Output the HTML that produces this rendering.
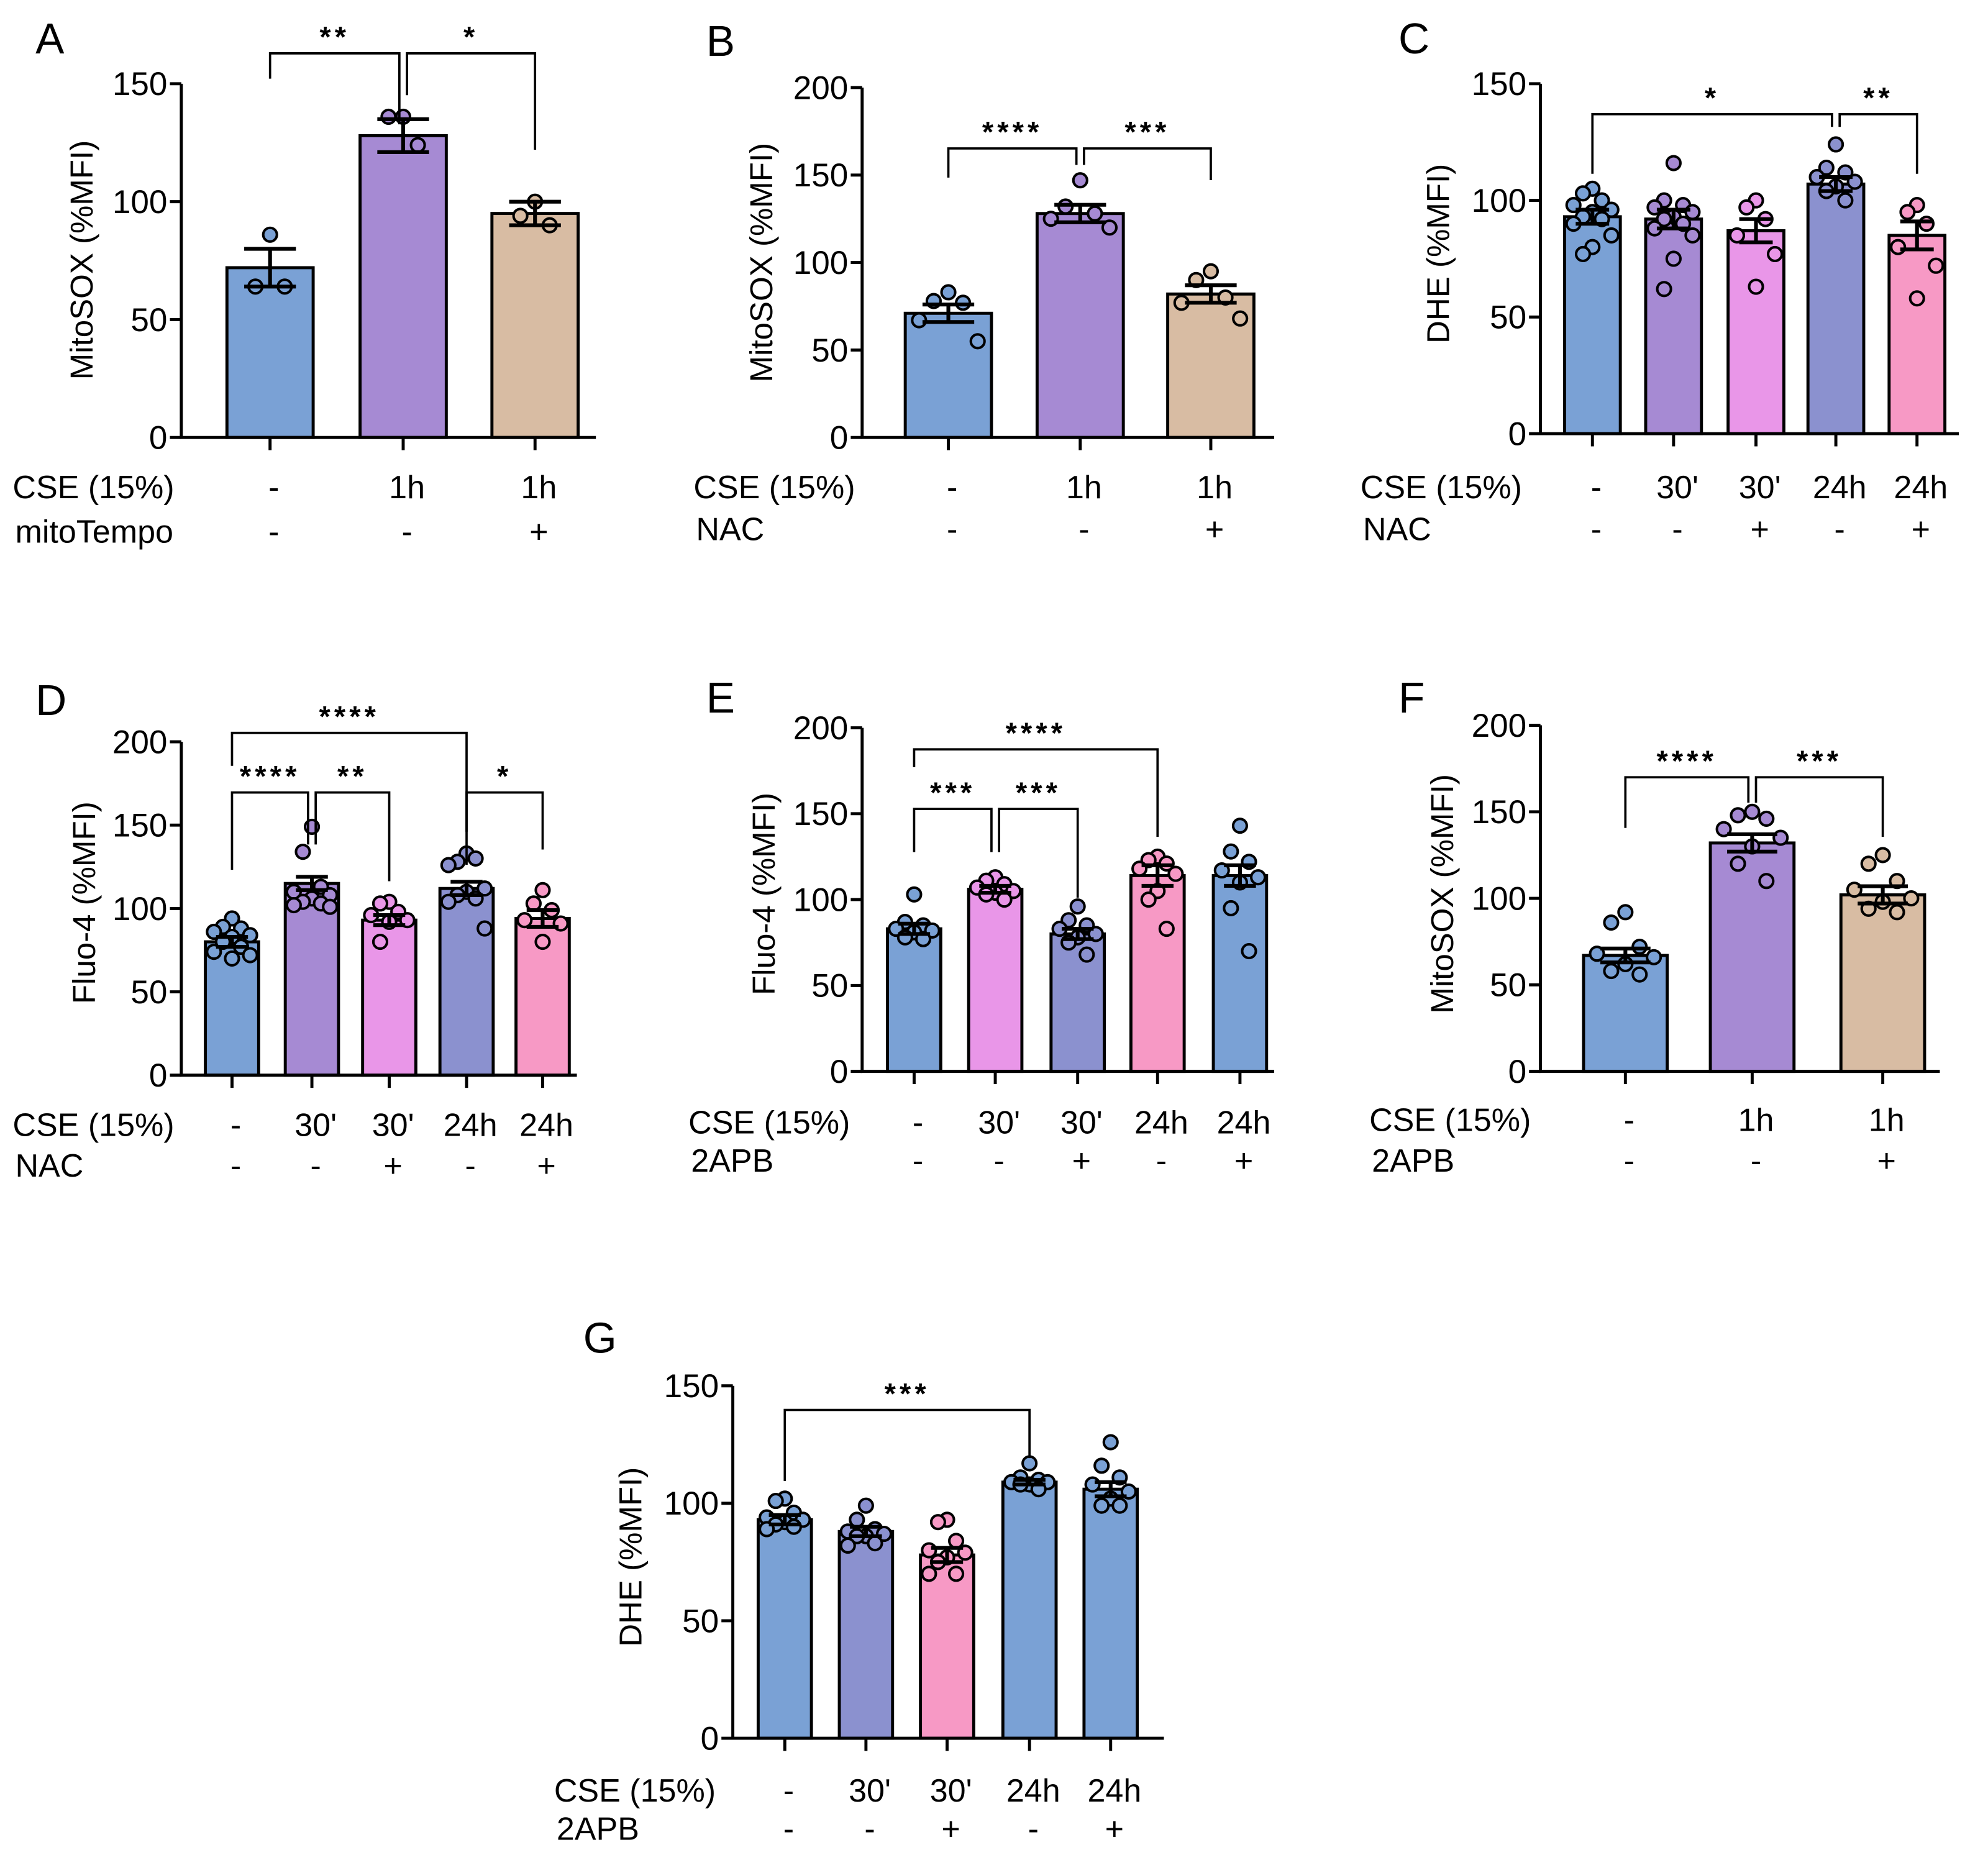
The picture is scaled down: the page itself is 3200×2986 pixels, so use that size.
<!DOCTYPE html>
<html><head><meta charset="utf-8"><style>
html,body{margin:0;padding:0;background:#fff}
svg{display:block}
text{font-family:"Liberation Sans",Arial,sans-serif;fill:#000}
</style></head><body>
<svg id="fig" width="3200" height="2986" viewBox="0 0 1568 1463" xmlns="http://www.w3.org/2000/svg"></svg>
<script>
// ---- data ----
const aMeans=[72,128,95];
const aSem=[8,7,5];
const aPts=[[86,64,64],[136,136,124],[100,94,90]];
const bMeans=[71,128,82];
const bSem=[5,5,5];
const bPts=[[83,78,77,67,55],[147,132,128,125,120],[95,90,80,77,68]];
const cMeans=[93,92,87,107,85];
const cSem=[3,4,5,3,6];
const cPts=[[105,103,100,98,96,95,93,92,90,85,80,77],[116,100,98,97,95,93,92,90,88,85,75,62],[100,97,92,85,77,63],[124,114,112,110,108,106,104,100],[98,95,90,80,72,58]];
const dMeans=[80,115,93,112,94];
const dSem=[3,4,3,4,5];
const dPts=[[94,89,88,86,84,83,80,77,74,72,70],[149,134,113,110,108,106,104,103,102,101],[104,103,98,96,93,92,80],[133,128,130,126,112,110,108,106,104,88],[111,103,99,93,91,80]];
const eMeans=[83,106,80,114,114];
const eSem=[3,2,3,6,6];
const ePts=[[103,87,85,83,82,81,78,77],[113,111,109,107,105,104,103,100],[96,88,85,83,80,78,75,68],[125,123,121,118,115,105,100,83],[143,128,122,117,113,110,95,70]];
const fMeans=[67,132,102];
const fSem=[4,5,5];
const fPts=[[92,86,72,68,66,62,58,56],[150,148,146,140,135,130,120,110],[125,120,110,105,100,98,94,92]];
const gMeans=[93,88,78,109,106];
const gSem=[2,2,3,1,3];
const gPts=[[102,101,96,94,93,92,91,90,89],[99,93,89,88,87,86,86,83,82],[93,92,84,80,79,77,75,70,70],[117,111,110,109,109,108,108,106],[126,116,111,108,105,102,99,99]];
const catsCSE3=["-","1h","1h"];
const catsCSE5=["-","30'","30'","24h","24h"];
const treat3=["-","-","+"];
const treat5=["-","-","+","-","+"];

const BLUE="#7aa1d5",PURP="#a68ad3",BEIGE="#d8bca3",VIOL="#e996e8",PERI="#8b91cf",PINK="#f799c5";

const panels=[
 {id:"a",letter:"A",lx:28,ly:42,ax:143,y0:345,ymax:150,ytop:66,ticks:[0,50,100,150],xend:470,cx:[213,318,422],bw:68,means:aMeans,sem:aSem,pts:aPts,cols:[BLUE,PURP,BEIGE],title:"MitoSOX (%MFI)",tx:73,ty:205,rowx:10,r1y:393,r2y:428,r1:catsCSE3,r2:treat3,r2name:"mitoTempo",
  br:[[0,1,42,"**",62,98],[1,2,42,"*",75,118]]},
 {id:"b",letter:"B",lx:557,ly:44,ax:680,y0:345,ymax:200,ytop:69,ticks:[0,50,100,150,200],xend:1005,cx:[748,852,955],bw:68,means:bMeans,sem:bSem,pts:bPts,cols:[BLUE,PURP,BEIGE],title:"MitoSOX (%MFI)",tx:609,ty:207,rowx:547,r1y:393,r2y:426,r1:catsCSE3,r2:treat3,r2name:"NAC",
  br:[[0,1,117,"****",140,130],[1,2,117,"***",130,142]]},
 {id:"c",letter:"C",lx:1103,ly:42,ax:1215,y0:342,ymax:150,ytop:66,ticks:[0,50,100,150],xend:1545,cx:[1256,1320,1385,1448,1512],bw:44,means:cMeans,sem:cSem,pts:cPts,cols:[BLUE,PURP,VIOL,PERI,PINK],title:"DHE (%MFI)",tx:1143,ty:200,rowx:1073,r1y:393,r2y:426,r1:catsCSE5,r2:treat5,r2name:"NAC",
  br:[[0,3,90,"*",137,100],[3,4,90,"**",100,137]]},
 {id:"d",letter:"D",lx:28,ly:564,ax:143,y0:848,ymax:200,ytop:585,ticks:[0,50,100,150,200],xend:455,cx:[183,246,307,368,428],bw:42,means:dMeans,sem:dSem,pts:dPts,cols:[BLUE,PURP,VIOL,PERI,PINK],title:"Fluo-4 (%MFI)",tx:75,ty:712,rowx:10,r1y:896,r2y:928,r1:catsCSE5,r2:treat5,r2name:"NAC",
  br:[[0,3,578,"****",604,656],[0,1,625,"****",686,666],[1,2,625,"**",666,695],[3,4,625,"*",682,670]]},
 {id:"e",letter:"E",lx:557,ly:562,ax:680,y0:845,ymax:200,ytop:574,ticks:[0,50,100,150,200],xend:1005,cx:[721,785,850,913,978],bw:42,means:eMeans,sem:eSem,pts:ePts,cols:[BLUE,VIOL,PERI,PINK,BLUE],title:"Fluo-4 (%MFI)",tx:611,ty:705,rowx:543,r1y:894,r2y:924,r1:catsCSE5,r2:treat5,r2name:"2APB",
  br:[[0,3,591,"****",605,660],[0,1,638,"***",672,672],[1,2,638,"***",672,708]]},
 {id:"f",letter:"F",lx:1103,ly:562,ax:1215,y0:845,ymax:200,ytop:572,ticks:[0,50,100,150,200],xend:1530,cx:[1282,1382,1485],bw:66,means:fMeans,sem:fSem,pts:fPts,cols:[BLUE,PURP,BEIGE],title:"MitoSOX (%MFI)",tx:1146,ty:705,rowx:1080,r1y:892,r2y:924,r1:catsCSE3,r2:treat3,r2name:"2APB",
  br:[[0,1,613,"****",653,633],[1,2,613,"***",633,660]]},
 {id:"g",letter:"G",lx:460,ly:1067,ax:578,y0:1371,ymax:150,ytop:1093,ticks:[0,50,100,150],xend:918,cx:[619,683,747,812,876],bw:42,means:gMeans,sem:gSem,pts:gPts,cols:[BLUE,PERI,PINK,BLUE,BLUE],title:"DHE (%MFI)",tx:506,ty:1228,rowx:437,r1y:1421,r2y:1451,r1:catsCSE5,r2:treat5,r2name:"2APB",
  br:[[0,3,1112,"***",1168,1150]]}
];

const svg=document.getElementById('fig');
const NS="http://www.w3.org/2000/svg";
function mk(tag,attrs,parent){const e=document.createElementNS(NS,tag);for(const k in attrs)e.setAttribute(k,attrs[k]);(parent||svg).appendChild(e);return e;}
function txt(s,attrs,parent){const e=mk('text',attrs,parent);e.textContent=s;return e;}

panels.forEach(p=>{
  const g=mk('g',{});
  
  
  const ys=v=>p.y0-(v/p.ymax)*(p.y0-p.ytop);
  const L=txt(p.letter,{x:p.lx,y:p.ly,'font-size':34,'font-family':'DejaVu Sans, sans-serif'},g);
  
  
  p.means.forEach((m,i)=>{
    const r=mk('rect',{x:p.cx[i]-p.bw/2,y:ys(m),width:p.bw,height:p.y0-ys(m),fill:p.cols[i],stroke:'#000','stroke-width':2.4},g);
    
    
  });
  p.pts.forEach((arr,i)=>{
    const sp=p.bw*0.17;
    arr.forEach((v,j)=>{
      const k=j%5; const off=[0,-1,1,-2,2][k]*sp;
      const c=mk('circle',{cx:p.cx[i]+off,cy:ys(v),r:5.4,fill:p.cols[i],stroke:'#000','stroke-width':2},g);
      
      
    });
  });
  p.means.forEach((m,i)=>{
    const eb=mk('path',{d:`M${p.cx[i]},${ys(m-p.sem[i])}V${ys(m+p.sem[i])}M${p.cx[i]-p.bw*0.3},${ys(m+p.sem[i])}H${p.cx[i]+p.bw*0.3}M${p.cx[i]-p.bw*0.3},${ys(m-p.sem[i])}H${p.cx[i]+p.bw*0.3}`,stroke:'#000','stroke-width':3,fill:'none'},g);
    
    
  });
  const ax=mk('path',{d:`M${p.ax},${p.ytop}V${p.y0}H${p.xend}`,stroke:'#000','stroke-width':2.4,fill:'none'},g);
  
  
  p.ticks.forEach(t=>{
    mk('line',{x1:p.ax-9,x2:p.ax,y1:ys(t),y2:ys(t),stroke:'#000','stroke-width':2.4},g);
    const tl=txt(t,{x:p.ax-11,y:ys(t)+9,'font-size':26,'text-anchor':'end'},g);
    
    
  });
  p.cx.forEach(c=>mk('line',{x1:c,x2:c,y1:p.y0,y2:p.y0+10,stroke:'#000','stroke-width':2.4},g));
  const yt=txt(p.title,{x:0,y:0,'font-size':25,'text-anchor':'middle',transform:`translate(${p.tx},${p.ty}) rotate(-90)`},g);
  
  
  const r1=txt('CSE (15%)',{x:p.rowx,y:p.r1y,'font-size':25.5},g);
  
  
  const r2=txt(p.r2name,{x:p.rowx+2,y:p.r2y,'font-size':25.5},g);
  
  
  p.r1.forEach((s,i)=>{
    const t=txt(s,{x:p.cx[i]+3,y:p.r1y,'font-size':25.5,'text-anchor':'middle'},g);
    
    
  });
  p.r2.forEach((s,i)=>{
    const t=txt(s,{x:p.cx[i]+3,y:p.r2y,'font-size':25.5,'text-anchor':'middle'},g);
    
    
  });
  p.br.forEach(b=>{
    const x1=p.cx[b[0]]+(b[0]>0&&p.br.some(o=>o[1]===b[0]&&o[2]===b[2])?3:0);
    const x2=p.cx[b[1]]-(p.br.some(o=>o[0]===b[1]&&o[2]===b[2])?3:0);
    const pa=mk('path',{d:`M${x1},${b[4]}V${b[2]}H${x2}V${b[5]}`,stroke:'#000','stroke-width':1.8,fill:'none'},g);
    
    
    const st=txt(b[3],{x:(x1+x2)/2,y:b[2]-5,'font-size':23,'text-anchor':'middle','font-weight':'bold','letter-spacing':3},g);
    
    
  });
});
</script>
</body></html>
